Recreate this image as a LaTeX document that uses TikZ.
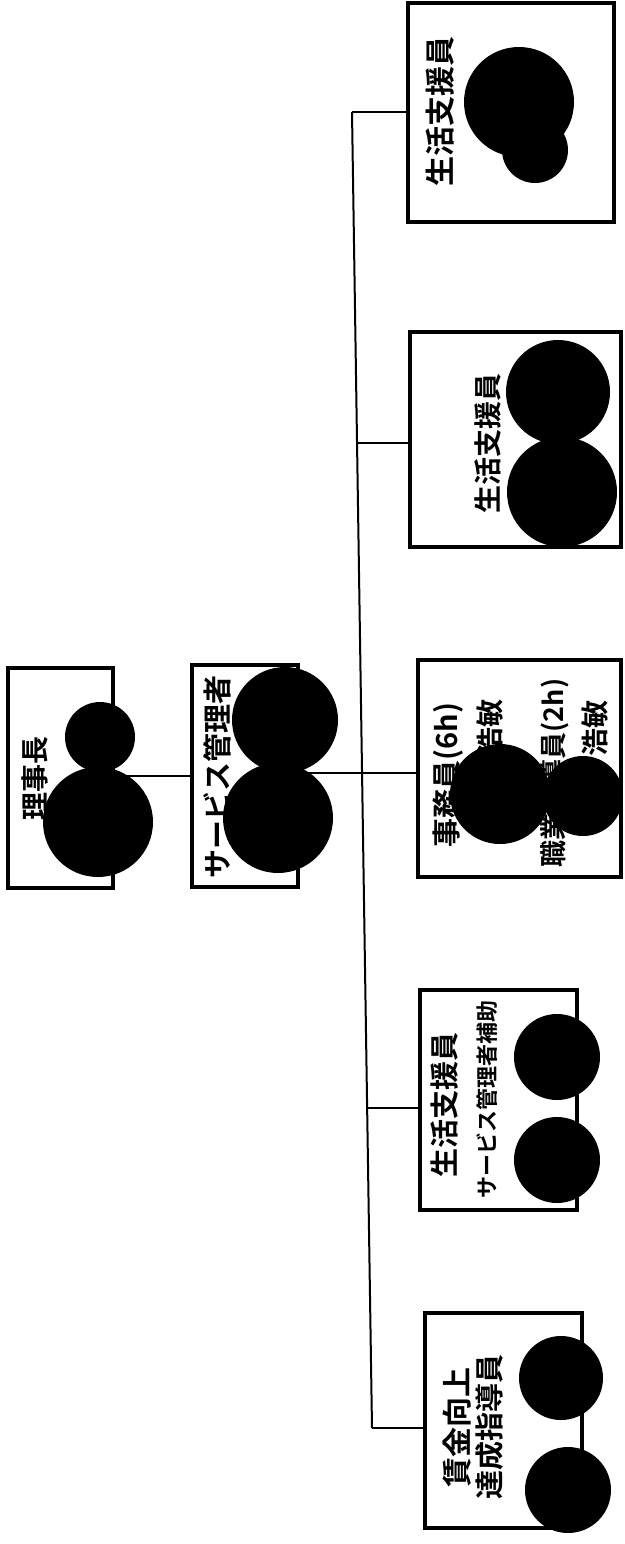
\documentclass[tikz,border=0pt]{standalone}
\usepackage{fontspec}
\setmainfont{Noto Sans CJK JP}[BoldFont={Noto Sans CJK JP Bold}]
\begin{document}
\begin{tikzpicture}[
        x=1pt, y=-1pt,
        box/.style={draw, line width=3.6pt, inner sep=0pt},
        label/.style={rotate=90, inner sep=0pt, font=\bfseries\fontsize{29}{29}\selectfont},
        note/.style={rotate=90, inner sep=0pt, font=\bfseries\fontsize{22}{22}\selectfont},
        line/.style={line width=2pt},
        blot/.style={fill=black}
    ]
        \useasboundingbox (0,0) rectangle (624,1544);

        % Boxes
        \node[box, minimum width=105pt, minimum height=220pt] (riji) at (60.5,778) {};
        \node[box, minimum width=106pt, minimum height=222pt] (sabi) at (245,776) {};
        \node[box, minimum width=206pt, minimum height=219pt] (staff1) at (511,112.5) {};
        \node[box, minimum width=211pt, minimum height=215pt] (staff2) at (515.5,439.5) {};
        \node[box, minimum width=203pt, minimum height=217pt] (office) at (519.5,768.5) {};
        \node[box, minimum width=157pt, minimum height=220pt] (staff3) at (498.5,1100) {};
        \node[box, minimum width=157pt, minimum height=215pt] (wage) at (503.5,1420.5) {};

        % Labels
        \node[label, font=\bfseries\fontsize{28}{28}\selectfont] (rijiT) at (35,778) {理事長};
        \node[label] (sabiT) at (217,777) {サービス管理者};
        \node[label, font=\bfseries\fontsize{30}{30}\selectfont] (staff1T) at (440,111) {生活支援員};
        \node[label, font=\bfseries\fontsize{28}{28}\selectfont] (staff2T) at (488,443) {生活支援員};
        \node[label] (officeT) at (448,775) {事務員(6h)};
        \node[label, font=\bfseries\fontsize{28}{28}\selectfont] (officeN) at (490,727) {浩敏};
        \node[label, font=\bfseries\fontsize{27}{27}\selectfont] (guideT) at (555,773) {職業指導員(2h)};
        \node[label, font=\bfseries\fontsize{28}{28}\selectfont] (guideN) at (595,728) {浩敏};
        \node[label] (staff3T) at (445,1105) {生活支援員};
        \node[note] (staff3S) at (487,1099) {サービス管理者補助};
        \node[label, font=\bfseries\fontsize{30}{30}\selectfont] (wageT) at (457,1427) {賃金向上};
        \node[label] (wageS) at (490,1427) {達成指導員};

        % Lines
        \coordinate (top) at (150,776);
        \coordinate (bustop) at (352,112);
        \coordinate (bus2) at (357,443);
        \coordinate (bus3) at (362,773);
        \coordinate (bus4) at (367,1108);
        \coordinate (busbot) at (372,1428);
        \draw[line] (top -| riji.east) -- (top -| sabi.west);
        \draw[line] (bustop) -- (busbot);
        \draw[line] (bustop) -- (bustop -| staff1.west);
        \draw[line] (bus2) -- (bus2 -| staff2.west);
        \draw[line] (bus3 -| sabi.east) -- (bus3 -| office.west);
        \draw[line] (bus4) -- (bus4 -| staff3.west);
        \draw[line] (busbot) -- (busbot -| wage.west);

        % Blots
        \fill[blot] (100,737) circle (35pt);
        \fill[blot] (98,822) circle (55pt);
        \fill[blot] (285,720) circle (53pt);
        \fill[blot] (278,818) circle (55pt);
        \fill[blot] (519,102) circle (55pt);
        \fill[blot] (535,150) circle (33pt);
        \fill[blot] (558,392) circle (52pt);
        \fill[blot] (562,492) circle (55pt);
        \fill[blot] (500,794) circle (50pt);
        \fill[blot] (583,796) circle (40pt);
        \fill[blot] (557,1057) circle (43pt);
        \fill[blot] (557,1160) circle (43pt);
        \fill[blot] (561,1378) circle (42pt);
        \fill[blot] (568,1490) circle (43pt);
    \end{tikzpicture}
\end{document}
